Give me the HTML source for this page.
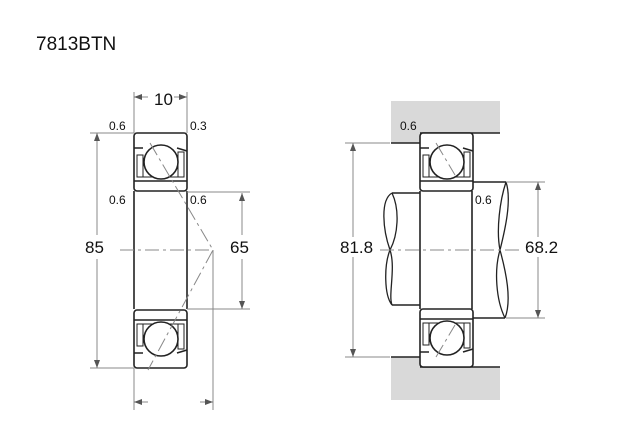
<!DOCTYPE html>
<html><head><style>body{margin:0;background:#fff}svg{display:block}text{font-family:"Liberation Sans",sans-serif;fill:#111}</style></head><body>
<svg width="640" height="440" viewBox="0 0 640 440">
<defs>
<g id="sec" fill="none" stroke="#222" stroke-width="1.6">
<rect x="0" y="0" width="53" height="58" rx="3" fill="#fff"/>
<path d="M0 15 H9 M43 15 L53 18 M0 48 H53"/>
<path d="M3 22 h6 v22 h-6z M44 19 h6 v25 h-6z" stroke-width="1"/>
<path d="M9 44 H45" stroke-width="1"/>
<circle cx="27" cy="29" r="17" fill="#fff"/>
</g>
</defs>
<text x="36" y="50" font-size="19">7813BTN</text>
<!-- left bearing -->
<use href="#sec" x="134" y="133"/>
<use href="#sec" transform="translate(134,368) scale(1,-1)"/>
<path d="M134 191 V309 M187 191 V309" stroke="#222" stroke-width="1.6"/>
<g stroke="#888" stroke-width="1" fill="none">
<path d="M150 143 L213 250 L148 370" stroke-dasharray="14,4,3,4"/>
<path d="M120 250 H212" stroke-dasharray="14,4,3,4"/>
<path d="M134 92 V133 M187 92 V133 M90 133 H134 M90 368 H134 M187 192 H250 M187 309 H250 M134 368 V410 M213 250 V410"/>
<path d="M97 133 V368 M242 193 V309 M134 97 H148 M174 97 H187 M134 402 H148 M200 402 H213"/>
</g>
<g fill="#555">
<path d="M97 133 l-3 8 h6z M97 368 l-3 -8 h6z M242 193 l-3 8 h6z M242 309 l-3 -8 h6z"/>
<path d="M134 97 l8 -3 v6z M187 97 l-8 -3 v6z M134 402 l8 -3 v6z M213 402 l-8 -3 v6z"/>
</g>
<g fill="#fff"><rect x="84" y="235" width="26" height="24"/><rect x="229" y="235" width="26" height="24"/><rect x="339" y="235" width="40" height="24"/><rect x="524" y="235" width="40" height="24"/></g>
<text x="154" y="105" font-size="17">10</text>
<text x="109" y="130" font-size="12">0.6</text>
<text x="190" y="130" font-size="12">0.3</text>
<text x="109" y="204" font-size="12">0.6</text>
<text x="190" y="204" font-size="12">0.6</text>
<text x="85" y="253" font-size="17">85</text>
<text x="230" y="253" font-size="17">65</text>
<!-- right -->
<path d="M391 101 H500 V133 H420 V143 H391Z M391 400 H500 V367 H420 V357 H391Z" fill="#d9d9d9"/>
<path d="M391 143 H420 M420 133 H500 M391 357 H420 M420 367 H500" stroke="#222" stroke-width="1.6"/>
<path d="M420 193 H392 M392 305 H420 M472 182 H506 M505 318 H472" fill="none" stroke="#222" stroke-width="1.6"/>
<path d="M392 193 C380 200,383 230,390 250 C396 268,388 295,392 305" fill="none" stroke="#222" stroke-width="1.3"/>
<path d="M392 193 C400 210,398 235,390 250 C384 265,384 295,392 305" fill="none" stroke="#222" stroke-width="1.3"/>
<path d="M506 182 C512 200,505 230,500 250 C494 270,496 300,505 318" fill="none" stroke="#222" stroke-width="1.3"/>
<path d="M506 182 C500 200,496 230,500 250 C506 272,512 300,505 318" fill="none" stroke="#222" stroke-width="1.3"/>
<use href="#sec" x="420" y="133"/>
<use href="#sec" transform="translate(420,367) scale(1,-1)"/>
<path d="M420 191 V309 M472 191 V309" stroke="#222" stroke-width="1.6"/>
<g stroke="#888" stroke-width="1" fill="none">
<path d="M436 143 L455 175 M436 357 L455 325 M380 250 H520" stroke-dasharray="14,4,3,4"/>
<path d="M345 143 H390 M345 357 H390 M506 182 H545 M506 318 H545 M353 143 V237 M353 257 V357 M538 182 V237 M538 257 V318"/>
</g>
<g fill="#555"><path d="M353 143 l-3 8 h6z M353 357 l-3 -8 h6z M538 182 l-3 8 h6z M538 318 l-3 -8 h6z"/></g>
<text x="400" y="130" font-size="12">0.6</text>
<text x="475" y="204" font-size="12">0.6</text>
<text x="340" y="253" font-size="17">81.8</text>
<text x="525" y="253" font-size="17">68.2</text>
</svg>
</body></html>
